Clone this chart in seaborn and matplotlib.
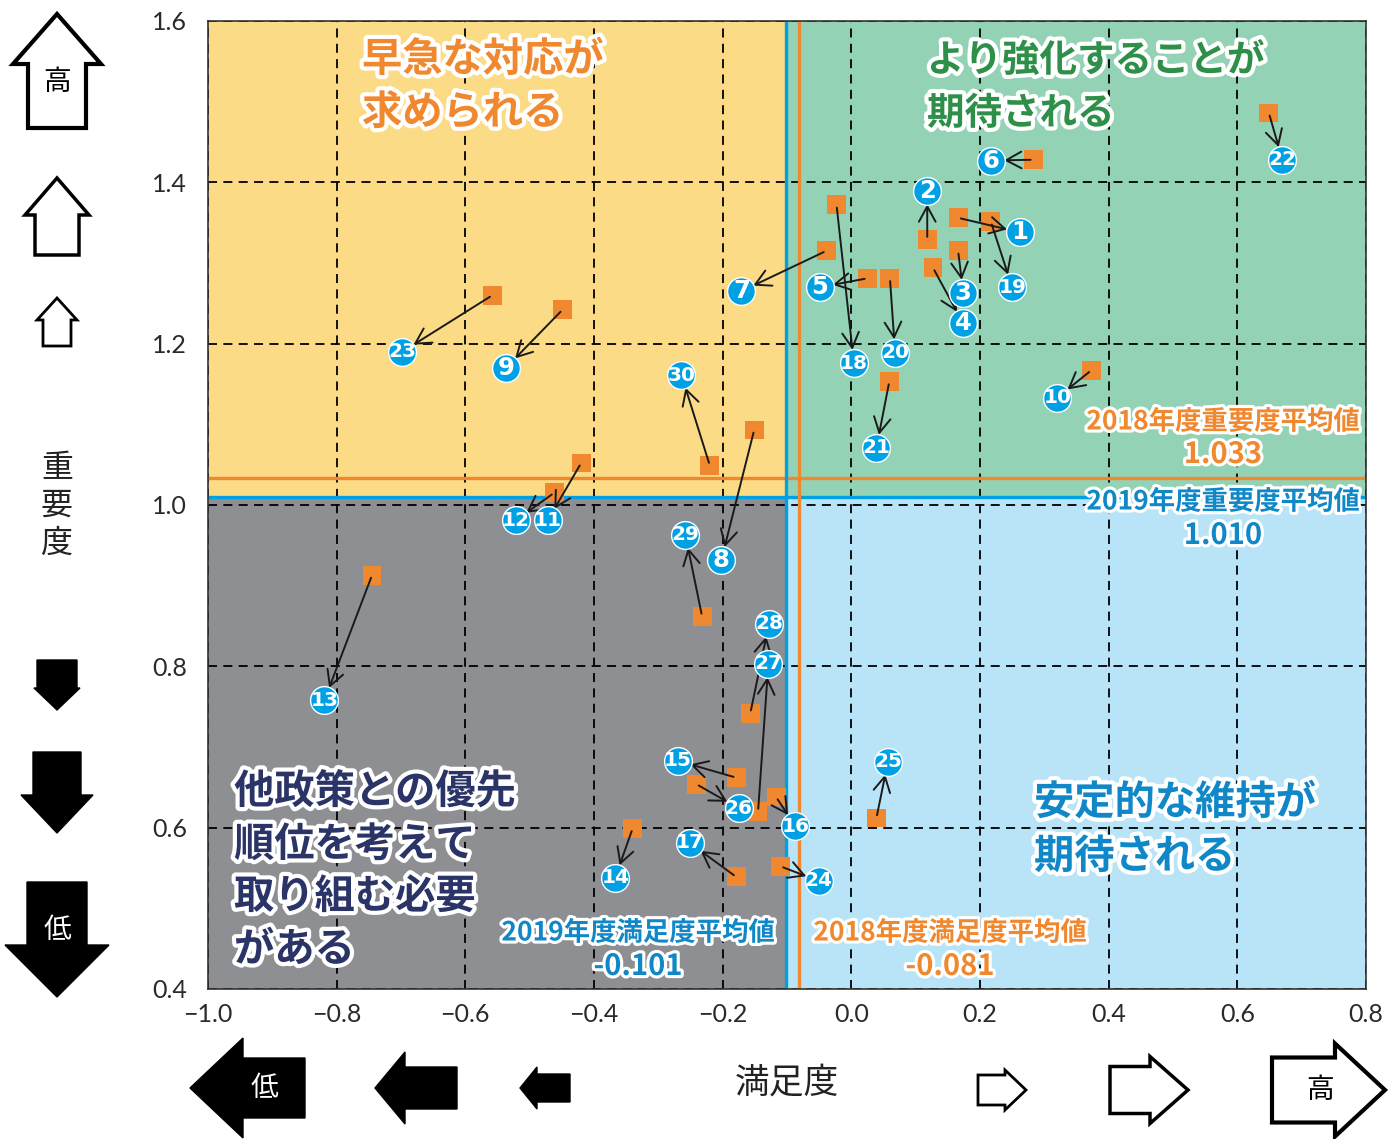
import matplotlib
matplotlib.use("Agg")
import matplotlib.pyplot as plt
import matplotlib.patheffects as pe
from matplotlib.patches import Polygon, Rectangle
import numpy as np
import pandas as pd
import seaborn as sns

# ---------------- data ----------------
items = list(range(1, 31))
sat_2018 = [0.166, 0.118, 0.166, 0.127, 0.025, 0.283, -0.039, -0.151, -0.449, 0.373,
            -0.420, -0.462, -0.745, -0.340, -0.179, -0.117, -0.179, -0.023, 0.217, 0.060,
            0.059, 0.649, -0.558, -0.110, 0.039, -0.241, -0.145, -0.157, -0.232, -0.220]
imp_2018 = [1.356, 1.329, 1.315, 1.294, 1.281, 1.428, 1.315, 1.093, 1.242, 1.167,
            1.052, 1.015, 0.913, 0.599, 0.662, 0.638, 0.539, 1.372, 1.351, 1.281,
            1.153, 1.486, 1.260, 0.552, 0.612, 0.654, 0.620, 0.742, 0.862, 1.049]
sat_2019 = [0.262, 0.118, 0.174, 0.174, -0.049, 0.217, -0.171, -0.202, -0.537, 0.320,
            -0.472, -0.522, -0.819, -0.367, -0.270, -0.087, -0.251, 0.004, 0.250, 0.068,
            0.039, 0.670, -0.698, -0.051, 0.057, -0.175, -0.129, -0.128, -0.258, -0.264]
imp_2019 = [1.338, 1.389, 1.263, 1.225, 1.270, 1.427, 1.265, 0.932, 1.170, 1.133,
            0.981, 0.981, 0.758, 0.538, 0.683, 0.602, 0.581, 1.176, 1.270, 1.189,
            1.071, 1.428, 1.190, 0.534, 0.682, 0.624, 0.803, 0.853, 0.963, 1.161]

sat_avg_2018 = -0.081
sat_avg_2019 = -0.101
imp_avg_2018 = 1.033
imp_avg_2019 = 1.010

x_ticks = [-1.0, -0.8, -0.6, -0.4, -0.2, 0.0, 0.2, 0.4, 0.6, 0.8]
y_ticks = [0.4, 0.6, 0.8, 1.0, 1.2, 1.4, 1.6]

df = pd.DataFrame({"no": items, "sat2018": sat_2018, "imp2018": imp_2018,
                   "sat2019": sat_2019, "imp2019": imp_2019})

# ---------------- style ----------------
ORANGE = "#F0882F"
BLUE = "#00A0E4"
GREEN_T = "#2E9048"
NAVY_T = "#2B3467"
BLUE_T = "#1088C8"
C_YELLOW = "#FBDB85"
C_GREEN = "#94D2B6"
C_GRAY = "#8E8F93"
C_LBLUE = "#B9E4F8"

sns.set_style("white")
plt.rcParams["font.family"] = ["Noto Sans CJK JP", "DejaVu Sans"]

W, H = 1399, 1139
fig = plt.figure(figsize=(W / 100, H / 100), dpi=100)
L, R, T, B = 208, 1366, 21, 989
ax = fig.add_axes([L / W, 1 - B / H, (R - L) / W, (B - T) / H])
ax.set_zorder(1)

XMIN, XMAX, YMIN, YMAX = -1.0, 0.8, 0.4, 1.6

# quadrants (split at 2019 averages)
ax.add_patch(Rectangle((XMIN, imp_avg_2019), sat_avg_2019 - XMIN, YMAX - imp_avg_2019,
                       fc=C_YELLOW, ec="none", zorder=0.1))
ax.add_patch(Rectangle((sat_avg_2019, imp_avg_2019), XMAX - sat_avg_2019, YMAX - imp_avg_2019,
                       fc=C_GREEN, ec="none", zorder=0.1))
ax.add_patch(Rectangle((XMIN, YMIN), sat_avg_2019 - XMIN, imp_avg_2019 - YMIN,
                       fc=C_GRAY, ec="none", zorder=0.1))
ax.add_patch(Rectangle((sat_avg_2019, YMIN), XMAX - sat_avg_2019, imp_avg_2019 - YMIN,
                       fc=C_LBLUE, ec="none", zorder=0.1))

ax.set_xlim(XMIN, XMAX)
ax.set_ylim(YMIN, YMAX)
ax.set_axisbelow(True)
ax.grid(True, color="black", linestyle=(0, (5, 3.5)), linewidth=1.3)

# average lines
ax.axhline(imp_avg_2018, color=ORANGE, lw=2.4, zorder=1.5)
ax.axhline(imp_avg_2019, color=BLUE, lw=2.4, zorder=1.5)
ax.axvline(sat_avg_2019, color=BLUE, lw=2.4, zorder=1.5)
ax.axvline(sat_avg_2018, color=ORANGE, lw=2.4, zorder=1.5)

# 2018 squares
sns.scatterplot(data=df, x="sat2018", y="imp2018", marker="s", s=185, color=ORANGE,
                edgecolor="none", linewidth=0, ax=ax, zorder=2, legend=False)

# arrows 2018 -> 2019
for _, r in df.iterrows():
    ax.annotate("", xy=(r["sat2019"], r["imp2019"]), xytext=(r["sat2018"], r["imp2018"]),
                arrowprops=dict(arrowstyle="->,head_length=0.55,head_width=0.3",
                                color="#1a1a1a", lw=1.4, shrinkA=2, shrinkB=9.5,
                                mutation_scale=20),
                zorder=3)

# 2019 circles
sns.scatterplot(data=df, x="sat2019", y="imp2019", marker="o", s=400, color=BLUE,
                edgecolor="white", linewidth=1.0, ax=ax, zorder=4, legend=False)
for _, r in df.iterrows():
    n = int(r["no"])
    ax.text(r["sat2019"], r["imp2019"], str(n), ha="center", va="center", color="white",
            fontsize=17.5 if n < 10 else 14.5, fontweight="bold",
            family=["Liberation Sans Narrow", "DejaVu Sans"], zorder=5)

ax.set_xlabel("")
ax.set_ylabel("")
ax.set_xticks(x_ticks)
ax.set_yticks(y_ticks)
ax.set_xticklabels([f"{v:.1f}".replace("-", "\u2212") for v in x_ticks])
ax.set_yticklabels([f"{v:.1f}" for v in y_ticks])
ax.tick_params(axis="both", which="both", length=4, width=1, color="#333333",
               labelsize=18, labelcolor="#2a2a2a", direction="out")
ax.tick_params(axis="x", pad=6)
ax.tick_params(axis="y", pad=11)
for lab in ax.get_xticklabels() + ax.get_yticklabels():
    lab.set_family(["Lato", "DejaVu Sans"])
    lab.set_fontweight("normal")
for sp in ax.spines.values():
    sp.set_color("#333333")
    sp.set_linewidth(1.2)
    sp.set_zorder(6)

# ---------------- overlay (pixel coordinates) ----------------
ov = fig.add_axes([0, 0, 1, 1])
ov.set_zorder(2)
ov.patch.set_alpha(0)
ov.set_xlim(0, W)
ov.set_ylim(H, 0)
ov.axis("off")

stroke = lambda w: [pe.withStroke(linewidth=w, foreground="white")]

def big_label(lines, x, ys, color, size):
    for line, y in zip(lines, ys):
        ov.text(x, y, line, ha="left", va="center", color=color, fontsize=size,
                fontweight="bold", path_effects=stroke(6))

big_label(["早急な対応が", "求められる"], 362, [60, 113], ORANGE, 29)
big_label(["より強化することが", "期待される"], 927, [60, 113], GREEN_T, 27)
big_label(["他政策との優先", "順位を考えて", "取り組む必要", "がある"], 234,
          [792, 845, 897, 950], NAVY_T, 29)
big_label(["安定的な維持が", "期待される"], 1034, [803, 857], BLUE_T, 29)

def avg_label(t1, t2, x, y1, y2, color):
    ov.text(x, y1, t1, ha="center", va="center", color=color, fontsize=19,
            fontweight="bold", path_effects=stroke(4.5))
    ov.text(x, y2, t2, ha="center", va="center", color=color, fontsize=21,
            fontweight="bold", path_effects=stroke(4.5))

avg_label("2018年度重要度平均値", f"{imp_avg_2018:.3f}", 1223, 422, 454, ORANGE)
avg_label("2019年度重要度平均値", f"{imp_avg_2019:.3f}", 1223, 502, 535, BLUE_T)
avg_label("2019年度満足度平均値", f"{sat_avg_2019:.3f}", 638, 933, 966, BLUE_T)
avg_label("2018年度満足度平均値", f"{sat_avg_2018:.3f}", 950, 933, 966, ORANGE)

# axis titles
for ch, yy in zip("重要度", [468, 506, 544]):
    ov.text(57, yy, ch, ha="center", va="center", fontsize=23, color="#222222")
ov.text(787, 1083, "満足度", ha="center", va="center", fontsize=25, color="#222222")

def v_arrow(cx, tip, base, end, hw, sw, filled, lw):
    pts = [(cx, tip), (cx + hw / 2, base), (cx + sw / 2, base), (cx + sw / 2, end),
           (cx - sw / 2, end), (cx - sw / 2, base), (cx - hw / 2, base)]
    ov.add_patch(Polygon(pts, closed=True, fc="black" if filled else "white",
                         ec="black", lw=lw, joinstyle="miter"))

def h_arrow(cy, tip, base, end, hh, sh, filled, lw):
    pts = [(tip, cy), (base, cy - hh / 2), (base, cy - sh / 2), (end, cy - sh / 2),
           (end, cy + sh / 2), (base, cy + sh / 2), (base, cy + hh / 2)]
    ov.add_patch(Polygon(pts, closed=True, fc="black" if filled else "white",
                         ec="black", lw=lw, joinstyle="miter"))

# vertical axis arrows
v_arrow(57, 14, 64, 128, 88, 58, False, 3.0)
v_arrow(57, 178, 215, 255, 64, 44, False, 2.5)
v_arrow(57, 298, 320, 346, 40, 28, False, 2.0)
v_arrow(57, 710, 688, 660, 46, 40, True, 1.0)
v_arrow(57, 833, 795, 752, 72, 48, True, 1.0)
v_arrow(57, 997, 945, 882, 104, 60, True, 1.0)
ov.text(57, 82, "高", ha="center", va="center", fontsize=20, color="black")
ov.text(57, 930, "低", ha="center", va="center", fontsize=20, color="white")

# horizontal axis arrows
h_arrow(1088, 190, 243, 305, 100, 60, True, 1.0)
h_arrow(1088, 375, 405, 457, 72, 42, True, 1.0)
h_arrow(1088, 520, 537, 570, 42, 28, True, 1.0)
h_arrow(1090, 1026, 1005, 978, 40, 30, False, 2.0)
h_arrow(1090, 1188, 1150, 1110, 67, 47, False, 2.5)
h_arrow(1090, 1385, 1335, 1272, 93, 65, False, 3.0)
ov.text(264, 1088, "低", ha="center", va="center", fontsize=20, color="white")
ov.text(1320, 1090, "高", ha="center", va="center", fontsize=20, color="black")

fig.savefig("out.png", dpi=100)
